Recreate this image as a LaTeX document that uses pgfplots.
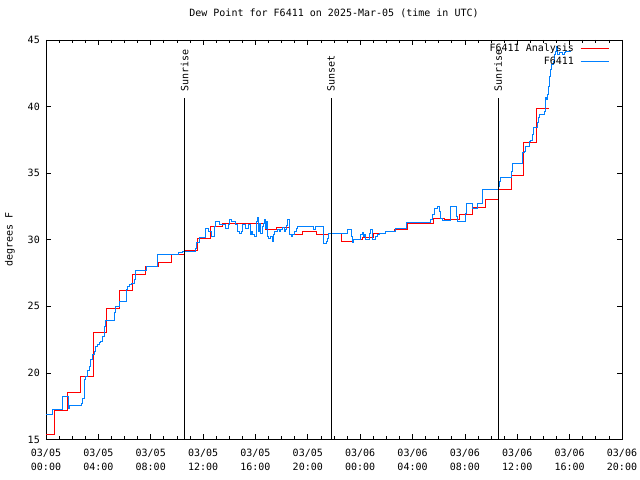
\documentclass[border=0pt]{standalone}
\usepackage{fontspec}
\setmainfont{DejaVu Sans Mono}
\usepackage{pgfplots}
\pgfplotsset{compat=1.18}
\definecolor{anred}{RGB}{255,0,0}
\definecolor{obsblue}{RGB}{0,128,255}
\begin{document}
\begin{tikzpicture}[font=\fontsize{10.05}{14}\selectfont]
\begin{axis}[
 scale only axis, width=576bp, height=399.5bp,
 xmin=0, xmax=44, ymin=15, ymax=45,
 xtick={0,4,...,44}, minor x tick num=3,
 xticklabels={03/05\\00:00,03/05\\04:00,03/05\\08:00,03/05\\12:00,03/05\\16:00,03/05\\20:00,03/06\\00:00,03/06\\04:00,03/06\\08:00,03/06\\12:00,03/06\\16:00,03/06\\20:00},
 ytick={15,20,...,45},
 tick align=inside, xtick pos=both, ytick pos=both,
 xticklabel pos=lower, yticklabel pos=left,
 major tick length=5bp, minor tick length=3bp,
 every tick/.style={black, line width=0.8bp},
 axis line style={line width=0.8bp},
 /pgf/number format/assume math mode=true,
 xticklabel style={align=center, inner sep=0pt, anchor=north, yshift=-9bp},
 yticklabel style={inner sep=0pt, anchor=east, xshift=-6bp},
 title={Dew Point for F6411 on 2025-Mar-05 (time in UTC)},
 title style={at={(axis description cs:0.5,1)}, anchor=center, yshift=21bp, inner sep=0pt},
 ylabel={degrees F},
 ylabel style={at={(axis description cs:-0.0625,0.5)}, anchor=center, inner sep=0pt},
 legend style={draw=none, fill=none, at={(axis description cs:1,1)}, anchor=north east, xshift=-13bp, yshift=-3bp, inner sep=0pt, outer sep=0pt, /tikz/row sep=2bp, /tikz/column sep=5bp, nodes={inner sep=1bp}},
 legend plot pos=right,
 legend cell align=right,
 legend image code/.code={\draw[#1] (0bp,0bp) -- (28bp,0bp);},
]
\coordinate (SW) at (rel axis cs:0,0);
\coordinate (NE) at (rel axis cs:1,1);
\addplot[const plot, anred, line width=1bp] coordinates {
(0,15.39) (0.64,17.2) (1.62,18.5) (2.65,19.7) (3.6,23.05) (4.6,24.8) (5.6,26.2)
(6.6,27.4) (7.6,28.0) (8.6,28.3) (9.6,28.9) (10.55,29.2) (11.6,30.1) (12.6,31.0)
(13.5,31.2) (16.8,30.8) (17.6,30.95) (18.6,30.4) (19.6,30.6) (20.66,30.4) (21.6,30.45)
(22.57,29.9) (23.41,30.05) (24.2,30.2) (24.98,30.45) (25.95,30.6) (26.64,30.8)
(27.58,31.25) (29.57,31.6) (30.46,31.5) (31.6,31.9) (32.6,32.4) (33.59,33.05)
(34.53,33.8) (35.55,34.8) (36.45,37.3) (37.5,39.85) (38.4,39.85)
};
\addlegendentry{F6411 Analysis}
\addplot[const plot, obsblue, line width=1bp] coordinates {
(0,16.9) (0.5,17.27) (1.25,18.25) (1.7,17.35) (1.8,17.57) (2.68,17.72) (2.8,18.1)
(2.93,19.47) (3.05,19.72) (3.17,20.2) (3.3,20.47) (3.42,20.98) (3.55,21.35) (3.68,21.6)
(3.8,21.98) (3.93,22.1) (4.06,22.28) (4.19,22.35) (4.31,22.73) (4.44,23.48) (4.57,23.9)
(5.24,24.5) (5.33,25.0) (5.62,25.36) (6.13,26.24) (6.25,26.5) (6.36,26.67) (6.55,26.74)
(6.74,27.04) (6.86,27.67) (7.64,28.0) (8.53,28.92) (10.14,29.07) (10.4,29.12)
(11.4,29.37) (11.47,29.83) (11.74,30.17) (12.18,30.83) (12.45,30.6) (12.62,30.25)
(12.87,31.0) (12.96,31.38) (13.25,31.13) (13.72,30.83) (13.95,31.13) (14.03,31.5)
(14.2,31.38) (14.5,31.13) (14.64,30.65) (14.78,30.5) (14.9,30.65) (15.02,31.13)
(15.27,30.83) (15.5,31.13) (15.62,30.43) (15.68,30.63) (15.8,30.43) (15.92,30.25)
(16.05,31.38) (16.13,31.68) (16.2,30.63) (16.3,31.2) (16.42,30.5) (16.5,31.0)
(16.6,31.2) (16.68,31.5) (16.77,30.83) (16.83,31.4) (16.9,30.25) (17.02,30.13)
(17.12,30.25) (17.3,29.87) (17.4,30.43) (17.46,30.6) (17.7,30.8) (17.8,30.63)
(17.95,30.8) (18.08,30.9) (18.2,30.63) (18.3,30.8) (18.35,31.1) (18.45,31.5)
(18.6,30.43) (18.72,30.25) (18.85,30.43) (18.98,30.65) (19.1,30.83) (19.22,31.0)
(20.45,30.75) (20.6,31.0) (21.2,29.75) (21.4,29.87) (21.52,30.13) (21.58,30.45)
(23.0,30.75) (23.3,30.25) (23.38,29.8) (23.48,30.0) (23.55,30.05) (24.05,30.37)
(24.18,30.55) (24.26,30.25) (24.32,30.37) (24.4,30.05) (24.7,30.45) (24.82,30.75)
(24.95,30.0) (25.08,30.05) (25.2,30.25) (25.33,30.37) (25.45,30.5) (25.92,30.63)
(26.68,30.88) (27.55,31.3) (29.4,31.55) (29.52,31.88) (29.65,32.38) (29.9,32.5)
(30.05,32.13) (30.17,31.63) (30.3,31.45) (30.88,32.5) (31.32,31.75) (31.45,31.38)
(32.05,32.0) (32.12,32.7) (32.58,32.38) (32.95,32.75) (33.35,33.76) (34.56,34.01)
(34.63,34.39) (34.7,34.71) (35.58,35.14) (35.6,35.72) (36.4,36.52) (36.52,36.64)
(36.65,37.02) (36.9,37.4) (37.03,37.47) (37.15,37.9) (37.22,38.4) (37.54,38.78)
(37.62,39.15) (37.68,39.4) (38.1,39.65) (38.14,40.28) (38.19,40.65) (38.27,40.53)
(38.32,40.9) (38.4,41.53) (38.49,42.28) (38.57,42.78) (38.65,43.16) (38.74,43.41)
(38.82,43.91) (38.9,44.16) (38.99,44.54) (39.08,43.91) (39.2,44.04) (39.45,43.91)
(39.58,44.09) (39.72,44.16) (40.13,44.16)
};
\addlegendentry{F6411}
\draw[black, line width=0.8bp] (axis cs:10.6,15) -- (axis cs:10.6,40.68);
\node[rotate=90, anchor=west, inner sep=0pt] at (axis cs:10.6,41.1) {Sunrise};
\draw[black, line width=0.8bp] (axis cs:21.77,15) -- (axis cs:21.77,40.68);
\node[rotate=90, anchor=west, inner sep=0pt] at (axis cs:21.77,41.1) {Sunset};
\draw[black, line width=0.8bp] (axis cs:34.53,15) -- (axis cs:34.53,40.68);
\node[rotate=90, anchor=west, inner sep=0pt] at (axis cs:34.53,41.1) {Sunrise};
\end{axis}
\pgfresetboundingbox
\path[use as bounding box] ([shift={(-46bp,-40.5bp)}]SW) rectangle ([shift={(18bp,40bp)}]NE);
\end{tikzpicture}
\end{document}
